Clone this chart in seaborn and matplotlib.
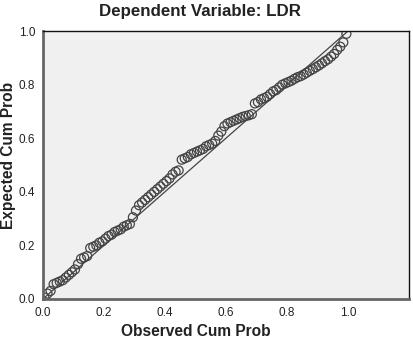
import matplotlib
matplotlib.use("Agg")
import matplotlib.pyplot as plt
import pandas as pd
import seaborn as sns

# normal P-P plot of regression standardized residual
observed = [0.005, 0.015, 0.025, 0.035, 0.045, 0.055, 0.065, 0.075, 0.085, 0.095,
            0.105, 0.115, 0.125, 0.135, 0.145, 0.155, 0.165, 0.175, 0.185, 0.195,
            0.205, 0.215, 0.225, 0.235, 0.245, 0.255, 0.265, 0.275, 0.285, 0.295,
            0.305, 0.315, 0.325, 0.335, 0.345, 0.355, 0.365, 0.375, 0.385, 0.395,
            0.405, 0.415, 0.425, 0.435, 0.445, 0.455, 0.465, 0.475, 0.485, 0.495,
            0.505, 0.515, 0.525, 0.535, 0.545, 0.555, 0.565, 0.575, 0.585, 0.595,
            0.605, 0.615, 0.625, 0.635, 0.645, 0.655, 0.665, 0.675, 0.685, 0.695,
            0.705, 0.715, 0.725, 0.735, 0.745, 0.755, 0.765, 0.775, 0.785, 0.795,
            0.805, 0.815, 0.825, 0.835, 0.845, 0.855, 0.865, 0.875, 0.885, 0.895,
            0.905, 0.915, 0.925, 0.935, 0.945, 0.955, 0.965, 0.975, 0.985, 0.995]
expected = [0.005, 0.020, 0.030, 0.055, 0.060, 0.065, 0.070, 0.080, 0.090, 0.100,
            0.110, 0.130, 0.150, 0.155, 0.160, 0.190, 0.195, 0.200, 0.210, 0.215,
            0.225, 0.235, 0.240, 0.250, 0.255, 0.260, 0.270, 0.275, 0.280, 0.305,
            0.330, 0.350, 0.360, 0.370, 0.380, 0.390, 0.400, 0.410, 0.420, 0.430,
            0.440, 0.450, 0.465, 0.475, 0.480, 0.520, 0.525, 0.530, 0.540, 0.545,
            0.550, 0.555, 0.560, 0.570, 0.575, 0.580, 0.590, 0.610, 0.625, 0.645,
            0.655, 0.660, 0.665, 0.670, 0.675, 0.680, 0.683, 0.686, 0.690, 0.730,
            0.735, 0.745, 0.750, 0.755, 0.765, 0.775, 0.780, 0.790, 0.800, 0.805,
            0.810, 0.815, 0.822, 0.828, 0.832, 0.838, 0.845, 0.852, 0.858, 0.865,
            0.872, 0.880, 0.888, 0.895, 0.905, 0.915, 0.930, 0.942, 0.958, 0.990]
diag = [0.0, 1.0]
ticks = [0.0, 0.2, 0.4, 0.6, 0.8, 1.0]

df = pd.DataFrame({'obs': observed, 'exp': expected})
ref = pd.DataFrame({'x': diag, 'y': diag})

sns.set_style("white")
plt.rcParams['font.family'] = ['Liberation Sans', 'DejaVu Sans']

fig = plt.figure(figsize=(4.13, 3.46), dpi=100)
ax = fig.add_axes([0.104, 0.136, 0.886, 0.774])
ax.set_facecolor('#f0f0f0')

sns.lineplot(data=ref, x='x', y='y', color='#444444', linewidth=0.9, ax=ax)
sns.scatterplot(data=df, x='obs', y='exp', marker='o', s=42,
                facecolor='none', edgecolor='#444444', linewidth=0.9, ax=ax)

ax.set_xlim(0, 1.2)
ax.set_ylim(0, 1.0)
ax.set_xticks(ticks)
ax.set_yticks(ticks)
ax.set_xticklabels(['%.1f' % t for t in ticks])
ax.set_yticklabels(['%.1f' % t for t in ticks])
ax.tick_params(axis='both', direction='out', length=4, width=1, colors='#555555',
               labelsize=8.5, labelcolor='#222222', pad=1.5)

for side in ['left', 'bottom']:
    ax.spines[side].set_color('#666666')
    ax.spines[side].set_linewidth(2)
for side in ['top', 'right']:
    ax.spines[side].set_color('#111111')
    ax.spines[side].set_linewidth(1)

ax.set_xlabel('Observed Cum Prob', fontsize=11.2, fontweight='bold', color='#222222')
ax.xaxis.set_label_coords(0.5 / 1.2, -0.095)
ax.set_ylabel('Expected Cum Prob', fontsize=11.2, fontweight='bold', color='#222222')
ax.yaxis.set_label_coords(-0.073, 0.535)

fig.text(0.485, 0.968, 'Dependent Variable: LDR', ha='center', va='center',
         fontsize=12.2, fontweight='bold', color='#222222')

fig.savefig('out.png', dpi=100)
